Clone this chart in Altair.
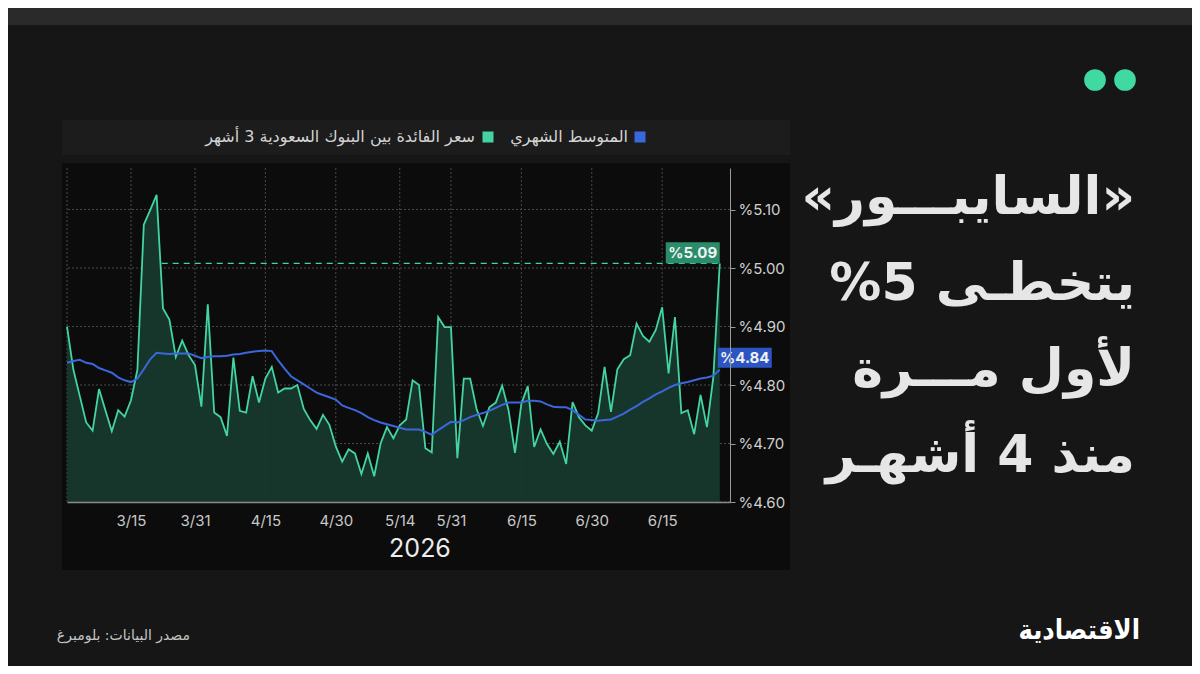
import altair as alt
import pandas as pd

# ---------------- data ----------------
saibor = [4.900, 4.826, 4.781, 4.736, 4.722, 4.793, 4.757, 4.721, 4.757, 4.746,
          4.774, 4.826, 5.074, 5.099, 5.125, 4.931, 4.912, 4.848, 4.876, 4.851,
          4.834, 4.763, 4.938, 4.753, 4.745, 4.713, 4.847, 4.756, 4.753, 4.815,
          4.770, 4.811, 4.831, 4.787, 4.794, 4.794, 4.800, 4.759, 4.740, 4.725,
          4.749, 4.732, 4.695, 4.669, 4.690, 4.683, 4.648, 4.683, 4.644, 4.700,
          4.728, 4.709, 4.731, 4.741, 4.808, 4.800, 4.692, 4.685, 4.916, 4.899,
          4.899, 4.675, 4.811, 4.811, 4.759, 4.730, 4.762, 4.770, 4.799, 4.757,
          4.684, 4.768, 4.798, 4.694, 4.724, 4.699, 4.682, 4.703, 4.665, 4.771,
          4.745, 4.731, 4.722, 4.752, 4.831, 4.754, 4.827, 4.844, 4.851, 4.905,
          4.884, 4.874, 4.894, 4.933, 4.820, 4.916, 4.752, 4.757, 4.716, 4.783,
          4.728, 4.814, 5.008]

monthly_avg = [4.838, 4.841, 4.843, 4.838, 4.836, 4.829, 4.825, 4.821, 4.813, 4.808,
               4.805, 4.811, 4.827, 4.844, 4.855, 4.854, 4.853, 4.854, 4.854, 4.854,
               4.850, 4.846, 4.848, 4.849, 4.849, 4.850, 4.852, 4.853, 4.855, 4.857,
               4.858, 4.859, 4.858, 4.842, 4.828, 4.815, 4.808, 4.801, 4.794, 4.787,
               4.783, 4.779, 4.775, 4.765, 4.761, 4.757, 4.752, 4.745, 4.740, 4.736,
               4.733, 4.730, 4.727, 4.724, 4.724, 4.724, 4.720, 4.715, 4.723, 4.730,
               4.737, 4.736, 4.740, 4.745, 4.749, 4.752, 4.756, 4.761, 4.766, 4.770,
               4.770, 4.770, 4.773, 4.773, 4.772, 4.767, 4.763, 4.762, 4.762, 4.757,
               4.749, 4.741, 4.740, 4.739, 4.740, 4.741, 4.746, 4.751, 4.758, 4.764,
               4.771, 4.777, 4.784, 4.789, 4.795, 4.800, 4.803, 4.805, 4.808, 4.811,
               4.813, 4.816, 4.826]

tick_index = [0, 10, 20, 31, 42, 52, 60, 71, 82, 93]
tick_labels = ["", "3/15", "3/31", "4/15", "4/30", "5/14", "5/31", "6/15", "6/30", "6/15"]
y_grid = [4.6, 4.7, 4.8, 4.9, 5.0, 5.1]
y_ticks = [4.6, 4.65, 4.7, 4.75, 4.8, 4.85, 4.9, 4.95, 5.0, 5.05, 5.1, 5.15]

last_label = "%5.09"
avg_label = "%4.84"
dash_start = 14.8

legend_saibor = "سعر الفائدة بين البنوك السعودية 3 أشهر"
legend_avg = "المتوسط الشهري"
headline = ["«السايبـــور»", "%5 يتخطـى", "لأول مـــرة", "منذ 4 أشهـر"]
year_text = "2026"
source_text = "مصدر البيانات:  بلومبرغ"
logo_text = "الاقتصادية"

# ---------------- colours ----------------
BG = "#161616"
PANEL = "#0c0c0c"
LEGBOX = "#1c1c1c"
GREEN = "#43d4a2"
FILL = "#17392e"
BLUE = "#3b67dc"
GRID = "#4a4a4a"

n = len(saibor)
df = pd.DataFrame({"i": list(range(n)), "saibor": saibor, "avg": monthly_avg})
one = pd.DataFrame({"a": [0]})

xscale = alt.Scale(domain=[0, 103.6], nice=False, zero=False)
yscale = alt.Scale(domain=[4.60, 5.171], nice=False, zero=False)

label_expr = ""
for idx, lab in zip(tick_index, tick_labels):
    label_expr += f"datum.value == {idx} ? '{lab}' : "
label_expr += "''"

# ---------------- background panels ----------------
top_band = alt.Chart(one).mark_rect(color="#2a2a2a").encode(
    x=alt.value(-67), x2=alt.value(1140), y=alt.value(-170), y2=alt.value(-143))
panel = alt.Chart(one).mark_rect(color=PANEL).encode(
    x=alt.value(-5), x2=alt.value(723), y=alt.value(-5), y2=alt.value(402))
legbox = alt.Chart(one).mark_rect(color=LEGBOX).encode(
    x=alt.value(-5), x2=alt.value(723), y=alt.value(-48), y2=alt.value(-13))

# ---------------- grid ----------------
vgrid = alt.Chart(pd.DataFrame({"t": tick_index})).mark_rule(
    color=GRID, strokeDash=[2, 2], strokeWidth=1).encode(
    x=alt.X("t:Q", scale=xscale))
hgrid = alt.Chart(pd.DataFrame({"g": y_grid})).mark_rule(
    color=GRID, strokeDash=[2, 2], strokeWidth=1).encode(
    y=alt.Y("g:Q", scale=yscale))

# ---------------- data marks ----------------
area = alt.Chart(df).mark_area(color=FILL, opacity=0.95).encode(
    x=alt.X("i:Q", scale=xscale,
            axis=alt.Axis(values=tick_index, labelExpr=label_expr, grid=False,
                          ticks=False, domain=True, domainColor="#8a8a8a",
                          domainWidth=1.5, labelColor="#c8c8c8", labelFontSize=15,
                          labelFont="Inter", labelPadding=11, title=None, zindex=1,
                          labelFlush=False)),
    y=alt.Y("saibor:Q", scale=yscale,
            axis=alt.Axis(orient="right", values=y_ticks,
                          labelExpr="round(datum.value*100) % 10 == 0 ? '%' + format(datum.value, '.2f') : ''",
                          grid=False, tickSize=5, tickColor="#9a9a9a",
                          domainColor="#9a9a9a", labelColor="#d0d0d0",
                          labelFontSize=15, labelFont="Inter", labelPadding=3,
                          title=None, zindex=1)),
    y2=alt.Y2(datum=4.60),
)

dash = alt.Chart(pd.DataFrame({"x0": [dash_start], "x1": [n - 1], "v": [saibor[-1]]})).mark_rule(
    color=GREEN, strokeDash=[6, 5], strokeWidth=1.2).encode(
    x=alt.X("x0:Q", scale=xscale), x2="x1:Q", y=alt.Y("v:Q", scale=yscale))

gline = alt.Chart(df).mark_line(color=GREEN, strokeWidth=1.8).encode(
    x=alt.X("i:Q", scale=xscale), y=alt.Y("saibor:Q", scale=yscale))
bline = alt.Chart(df).mark_line(color=BLUE, strokeWidth=2).encode(
    x=alt.X("i:Q", scale=xscale), y=alt.Y("avg:Q", scale=yscale))

last = pd.DataFrame({"i": [n - 1], "s": [saibor[-1]], "a": [monthly_avg[-1]]})
gbox = alt.Chart(last).mark_rect(color="#2a8c6a", width=54, height=21, xOffset=-27, yOffset=-10.5).encode(
    x=alt.X("i:Q", scale=xscale), y=alt.Y("s:Q", scale=yscale))
gtxt = alt.Chart(last).mark_text(text=last_label, color="#f2f2f2", font="Inter",
                                  fontWeight="bold", fontSize=15, dx=-27, dy=-10,
                                  baseline="middle").encode(
    x=alt.X("i:Q", scale=xscale), y=alt.Y("s:Q", scale=yscale))
bbox = alt.Chart(last).mark_rect(color="#2c55c4", width=54, height=20, xOffset=25, yOffset=-12).encode(
    x=alt.X("i:Q", scale=xscale), y=alt.Y("a:Q", scale=yscale))
btxt = alt.Chart(last).mark_text(text=avg_label, color="#f2f2f2", font="Inter",
                                  fontWeight="bold", fontSize=15, dx=25, dy=-11.5,
                                  baseline="middle").encode(
    x=alt.X("i:Q", scale=xscale), y=alt.Y("a:Q", scale=yscale))

# ---------------- legend ----------------
leg_b_sq = alt.Chart(one).mark_square(color=BLUE, size=121, opacity=1).encode(
    x=alt.value(573), y=alt.value(-31))
leg_b_tx = alt.Chart(one).mark_text(text=legend_avg, align="right", baseline="middle",
                                     font="DejaVu Sans", fontSize=16, color="#d4d4d4").encode(
    x=alt.value(561), y=alt.value(-31))
leg_g_sq = alt.Chart(one).mark_square(color=GREEN, size=121, opacity=1).encode(
    x=alt.value(421), y=alt.value(-31))
leg_g_tx = alt.Chart(one).mark_text(text=legend_saibor, align="right", baseline="middle",
                                     font="DejaVu Sans", fontSize=16, color="#d4d4d4").encode(
    x=alt.value(408), y=alt.value(-31))

# ---------------- other texts ----------------
year = alt.Chart(one).mark_text(text=year_text, align="center", baseline="middle",
                                 font="Inter", fontSize=25, color="#ededed").encode(
    x=alt.value(353), y=alt.value(381))

title = alt.Chart(one).mark_text(text=headline, align="right", baseline="alphabetic",
                                  font="DejaVu Sans", fontWeight="bold", fontSize=52,
                                  lineHeight=86, color="#e6e6e6").encode(
    x=alt.value(1068), y=alt.value(46))

dots = alt.Chart(one).mark_circle(color="#3fd9a1", size=470, opacity=1).encode(
    x=alt.value(1028), y=alt.value(-88))
dot2 = alt.Chart(one).mark_circle(color="#3fd9a1", size=470, opacity=1).encode(
    x=alt.value(1058), y=alt.value(-88))

source = alt.Chart(one).mark_text(text=source_text, align="right", baseline="middle",
                                   font="DejaVu Sans", fontSize=14, color="#c4c4c4").encode(
    x=alt.value(123), y=alt.value(468))
logo = alt.Chart(one).mark_text(text=logo_text, align="right", baseline="middle",
                                 font="DejaVu Sans Condensed", fontWeight="bold", fontSize=27,
                                 color="#ffffff").encode(
    x=alt.value(1073), y=alt.value(463))

chart = alt.layer(
    top_band, panel, legbox, vgrid, hgrid, area, dash, gline, bline,
    gbox, gtxt, bbox, btxt, leg_b_sq, leg_b_tx, leg_g_sq, leg_g_tx,
    year, title, dots, dot2, source, logo
).properties(
    width=663, height=334,
    padding={"left": 59, "top": 160, "right": 462, "bottom": 164},
    autosize=alt.AutoSizeParams(type="none"),
    background=BG,
).configure_view(stroke=None)

chart.save("out.html", embed_options={"renderer": "svg", "actions": False})
